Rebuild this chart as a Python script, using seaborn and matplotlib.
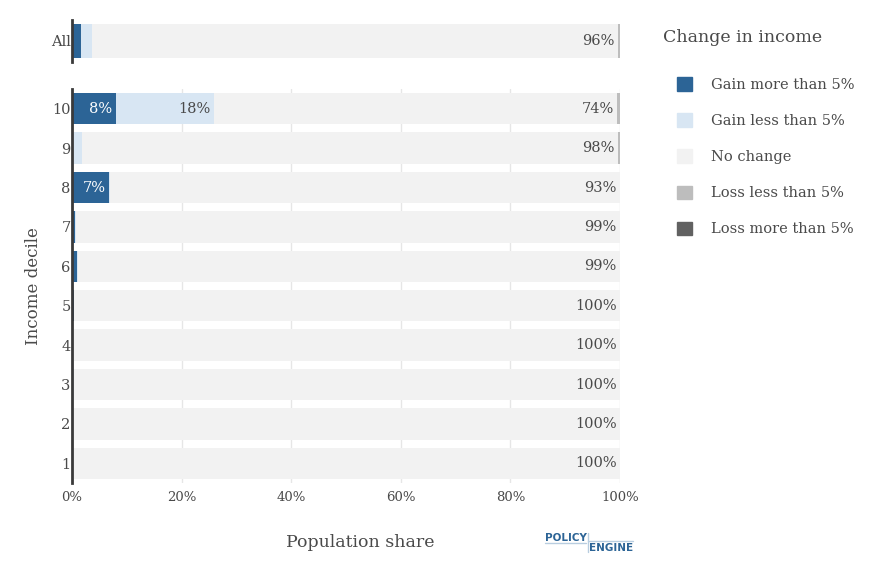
import matplotlib
matplotlib.use('Agg')
import matplotlib.pyplot as plt
from matplotlib.patches import Patch
from matplotlib.lines import Line2D
import seaborn as sns
import pandas as pd

# share of people in each group (percent)
groups = ['All', '10', '9', '8', '7', '6', '5', '4', '3', '2', '1']
gain_more_5 = [1.6, 8.0, 0.2, 6.8, 0.6, 0.9, 0.4, 0.1, 0.0, 0.0, 0.0]
gain_less_5 = [2.0, 17.9, 1.6, 0.2, 0.1, 0.1, 0.0, 0.0, 0.3, 0.05, 0.0]
no_change = [96.0, 73.6, 97.8, 93.0, 99.3, 99.0, 99.6, 99.9, 99.7, 99.95, 100.0]
loss_less_5 = [0.4, 0.5, 0.4, 0.0, 0.0, 0.0, 0.0, 0.0, 0.0, 0.0, 0.0]
loss_more_5 = [0.0, 0.0, 0.0, 0.0, 0.0, 0.0, 0.0, 0.0, 0.0, 0.0, 0.0]

categories = ['Gain more than 5%', 'Gain less than 5%', 'No change',
              'Loss less than 5%', 'Loss more than 5%']
colors = ['#2C6496', '#D8E6F3', '#F2F2F2', '#BDBDBD', '#616161']
text_dark = '#4a4a4a'

df = pd.DataFrame({
    'group': groups,
    categories[0]: gain_more_5,
    categories[1]: gain_less_5,
    categories[2]: no_change,
    categories[3]: loss_less_5,
    categories[4]: loss_more_5,
})
cum = df[categories].cumsum(axis=1)
cum['group'] = df['group']

sns.set_theme(style='white')
plt.rcParams['font.family'] = ['DejaVu Serif']
plt.rcParams['text.color'] = text_dark
plt.rcParams['xtick.color'] = text_dark
plt.rcParams['ytick.color'] = text_dark

fig = plt.figure(figsize=(8.86, 5.83), dpi=100)
ax_all = fig.add_axes([0.0813, 0.8937, 0.6185, 0.072])
ax_dec = fig.add_axes([0.0813, 0.1715, 0.6185, 0.6758])

panels = [(ax_all, ['All']), (ax_dec, groups[1:])]
for ax, order in panels:
    sub = cum[cum['group'].isin(order)]
    raw = df[df['group'].isin(order)].set_index('group')
    # stacked bars: draw cumulative totals from right-most segment down
    for cat, col in reversed(list(zip(categories, colors))):
        sns.barplot(data=sub, x=cat, y='group', order=order, orient='h',
                    color=col, width=0.8, saturation=1, ax=ax, zorder=2,
                    edgecolor='none', linewidth=0)
    # segment labels
    for i, g in enumerate(order):
        for j, cat in enumerate(categories):
            val = raw.loc[g, cat]
            end = cum.loc[cum['group'] == g, cat].iloc[0]
            if j == 2 or val >= 5:
                tc = 'white' if j in (0, 4) else text_dark
                ax.text(end - 0.6, i, f'{val:.0f}%', ha='right', va='center',
                        fontsize=10.5, color=tc, zorder=3)
    ax.set_xlim(0, 100)
    ax.set_xlabel('')
    ax.set_ylabel('')
    ax.set_xticks([0, 20, 40, 60, 80, 100])
    for s in ['top', 'right', 'bottom']:
        ax.spines[s].set_visible(False)
    ax.spines['left'].set_color('#3a3a3a')
    ax.spines['left'].set_linewidth(2)
    ax.spines['left'].set_zorder(4)
    ax.tick_params(axis='y', length=0, labelsize=10.5, pad=1)

ax_all.set_xticks([])
ax_all.set_ylim(0.5, -0.5)

ax_dec.set_ylim(9.5, -0.5)
ax_dec.grid(axis='x', color='#e6e6e6', linewidth=1, zorder=0)
ax_dec.set_axisbelow(True)
ax_dec.set_xticklabels(['0%', '20%', '40%', '60%', '80%', '100%'])
ax_dec.tick_params(axis='x', length=0, labelsize=9.5, pad=6)
ax_dec.set_xlabel('Population share', fontsize=12.5, color=text_dark)
ax_dec.set_ylabel('Income decile', fontsize=12, color=text_dark)
ax_dec.xaxis.set_label_coords(0.526, -0.13)
ax_dec.yaxis.set_label_coords(-0.055, 0.5)

# legend
fig.text(663 / 886, 1 - 37 / 583, 'Change in income', fontsize=12.5,
         color=text_dark, ha='left', va='center')
handles = [Patch(facecolor=c, edgecolor=c, label=l) for c, l in zip(colors, categories)]
leg = fig.legend(handles=handles, loc='upper left',
                 bbox_to_anchor=(677 / 886, 1 - 77 / 583), frameon=False,
                 fontsize=10.5, handlelength=1.05, handleheight=1.05,
                 labelspacing=1.47, handletextpad=1.25, borderpad=0,
                 borderaxespad=0)
for t in leg.get_texts():
    t.set_color(text_dark)

# logo
logo_blue = '#2C6496'
fig.text(545 / 886, 1 - 538 / 583, 'POLICY', fontsize=7.5, fontweight='bold',
         color=logo_blue, family='DejaVu Sans', va='center', ha='left')
fig.text(633 / 886, 1 - 548 / 583, 'ENGINE', fontsize=7.5, fontweight='bold',
         color=logo_blue, family='DejaVu Sans', va='center', ha='right')
fig.add_artist(Line2D([545 / 886, 586 / 886], [1 - 543 / 583, 1 - 543 / 583],
                      color='#b8cde0', linewidth=1))
fig.add_artist(Line2D([588 / 886, 633 / 886], [1 - 541 / 583, 1 - 541 / 583],
                      color='#b8cde0', linewidth=1))
fig.add_artist(Line2D([588 / 886, 588 / 886], [1 - 533 / 583, 1 - 552 / 583],
                      color='#b8cde0', linewidth=1))

fig.savefig('out.png', dpi=100)
